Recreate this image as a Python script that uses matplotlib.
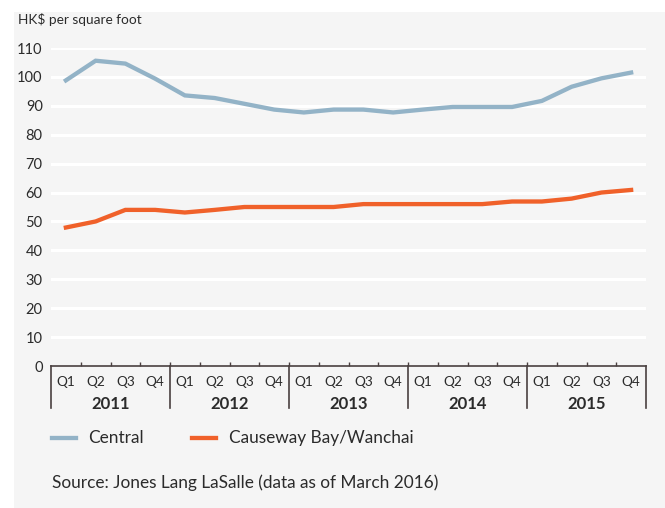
import matplotlib
matplotlib.use("Agg")
import matplotlib.pyplot as plt
from matplotlib.patches import Rectangle
from matplotlib.lines import Line2D
import numpy as np

plt.rcParams['font.family'] = ['Lato', 'DejaVu Sans']

years = ["2011", "2012", "2013", "2014", "2015"]
quarters = ["Q1", "Q2", "Q3", "Q4"]
central = [98.8, 105.6, 104.6, 99.4, 93.6, 92.7, 90.7, 88.7, 87.7, 88.7,
           88.7, 87.7, 88.7, 89.6, 89.6, 89.6, 91.7, 96.6, 99.5, 101.5]
causeway = [47.9, 50, 54, 54, 53.1, 54, 55, 55, 55, 55,
            56, 56, 56, 56, 56, 56.9, 56.9, 57.9, 60, 60.9]
yticks = list(range(0, 111, 10))
y_label = "HK$ per square foot"
series_names = ["Central", "Causeway Bay/Wanchai"]
source = "Source: Jones Lang LaSalle (data as of March 2016)"

W, H = 665, 508
fig = plt.figure(figsize=(W / 100, H / 100), dpi=100)
fig.patch.set_facecolor("white")
fig.patches.append(Rectangle((14 / W, 0), 1 - 14 / W, 1 - 12 / H, transform=fig.transFigure,
                             facecolor="#f5f5f5", edgecolor="none", zorder=-10))

ax = fig.add_axes([51 / W, (H - 366) / H, 595 / W, (366 - 48) / H])
ax.set_facecolor("none")
n = len(central)
x = np.arange(n)
c_blue = "#93b3c7"
c_orange = "#f0612a"
txt = "#2b2b2b"

ax.set_xlim(-0.5, n - 0.5)
ax.set_ylim(0, 110)
for y in yticks[1:]:
    ax.axhline(y, color="white", lw=2.2, zorder=1)
ax.plot(x, central, color=c_blue, lw=3.1, zorder=3, solid_joinstyle="miter")
ax.plot(x, causeway, color=c_orange, lw=3.1, zorder=3, solid_joinstyle="miter")

ax.set_yticks(yticks)
ax.set_yticklabels([str(v) for v in yticks], fontsize=10.5, color=txt)
ax.tick_params(axis="y", length=0, pad=6)
for s in ["top", "right", "left"]:
    ax.spines[s].set_visible(False)
ax.spines["bottom"].set_color("#4a4040")
ax.spines["bottom"].set_linewidth(1.2)

ax.set_xticks(x[:-1] + 0.5, minor=True)
ax.set_xticks([])
ax.tick_params(axis="x", which="minor", direction="in", length=3, color="#4a4040", width=1)

trans = ax.get_xaxis_transform()
for i in range(n):
    ax.text(i, -0.05, quarters[i % 4], transform=trans, ha="center", va="center",
            fontsize=9.8, color=txt)
for j, yr in enumerate(years):
    ax.text(4 * j + 1.5, -0.12, yr, transform=trans, ha="center", va="center",
            fontsize=12, fontweight="bold", color=txt)
for b in range(len(years) + 1):
    ax.add_line(Line2D([4 * b - 0.5, 4 * b - 0.5], [0, -0.133], transform=trans,
                       color="#4a4040", lw=1.2, clip_on=False))

fig.text(18 / W, 1 - 20 / H, y_label, fontsize=9.8, color=txt, va="center", ha="left")

ly = 1 - 438 / H
fig.add_artist(Line2D([52 / W, 76 / W], [ly, ly], color=c_blue, lw=3.1))
fig.text(88 / W, ly, series_names[0], fontsize=12.4, color=txt, va="center", ha="left")
fig.add_artist(Line2D([192 / W, 216 / W], [ly, ly], color=c_orange, lw=3.1))
fig.text(229 / W, ly, series_names[1], fontsize=12.4, color=txt, va="center", ha="left")

fig.text(52 / W, 1 - 483 / H, source, fontsize=12.4, color=txt, va="center", ha="left")

fig.savefig("out.png", dpi=100, facecolor=fig.get_facecolor())
